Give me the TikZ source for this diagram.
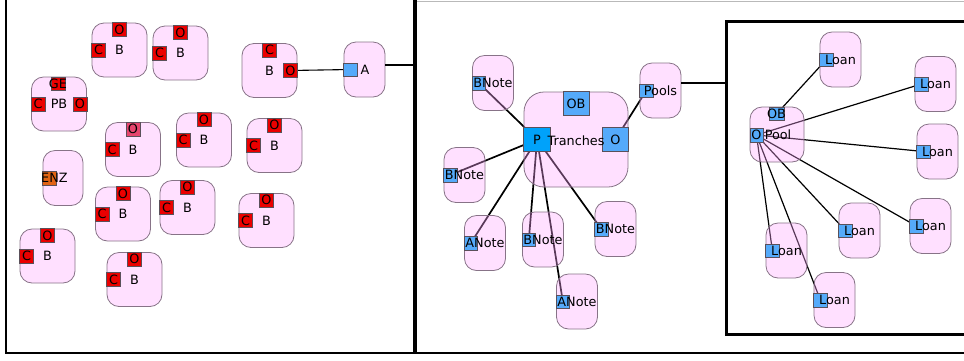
\documentclass[tikz,border=0pt]{standalone}
\usepackage{fontspec}
\setmainfont{DejaVu Sans}
\definecolor{boxbase}{RGB}{255,166,255}
\definecolor{boxline}{RGB}{135,115,135}
\definecolor{portred}{RGB}{235,0,0}
\definecolor{portpink}{RGB}{230,70,110}
\definecolor{portblue}{RGB}{85,170,250}
\definecolor{portcyan}{RGB}{0,162,250}
\definecolor{portorange}{RGB}{225,100,20}
\definecolor{portline}{RGB}{90,80,90}
\pgfdeclarelayer{bg}
\pgfsetlayers{bg,main}
\tikzset{
  cbox/.style={draw=boxline, line width=0.8pt, fill=boxbase, fill opacity=0.35, text opacity=1, rounded corners=12pt, inner sep=0pt},
  sqb/.style={minimum width=55pt, minimum height=54pt},
  tallb/.style={minimum width=41pt, minimum height=55pt},
  port/.style={draw=portline, line width=0.5pt, inner sep=0pt, minimum width=14pt, minimum height=14pt},
  bp/.style={port, fill=portblue, minimum width=13.5pt, minimum height=13.5pt},
  lbl/.style={inner sep=0pt},
  conn/.style={line width=1.2pt},
  frame/.style={line width=2.5pt}
}
\newcommand\mkB[4]{%
  \node[cbox,sqb] (#1) at (#2,#3) {B};
  \node[port,fill=#4] (#1o) at ([yshift=-7pt]#1.north) {O};
  \node[port,fill=portred] (#1c) at ([xshift=7pt]#1.west) {C};
}
\newcommand\mkN[4]{%
  \node[cbox,tallb] (#1) at (#2,#3) {};
  \node[bp] (#1p) at ([xshift=6.75pt]#1.west) {};
  \node[lbl] (#1l) at (#1.center) {#4};
}
\begin{document}
\begin{tikzpicture}[x=1pt,y=-1pt,font=\fontsize{12.8pt}{15pt}\selectfont]
\useasboundingbox (0,0) rectangle (964,360);
\clip (0,0) rectangle (964,360);
% frames
\draw[frame] (6,-3) -- (6,353) -- (968,353);
\draw[line width=3.5pt] (415,-3) -- (415,353);
\draw[gray!55, line width=1pt] (417,1) -- (968,1);
\draw[line width=3pt] (968,21) -- (726,21) -- (726,334) -- (968,334);

% ---------- left panel ----------
\mkB{b1}{119.5}{50}{portred}
\mkB{b2}{180.5}{53}{portred}
\mkB{b6}{133}{149.5}{portpink}
\mkB{b7}{204}{140}{portred}
\mkB{b8}{274.5}{145.5}{portred}
\mkB{b10}{123}{214}{portred}
\mkB{b11}{187.5}{207.5}{portred}
\mkB{b12}{266.5}{220.5}{portred}
\mkB{b13}{47.5}{256}{portred}
\mkB{b14}{134.5}{279.5}{portred}

\node[cbox,sqb] (b3) at (269.5,70.5) {B};
\node[port,fill=portred] (b3c) at ([yshift=-7pt]b3.north) {C};
\node[port,fill=portred] (b3o) at ([xshift=-7pt]b3.east) {O};

\node[cbox,tallb] (a) at (364.5,69.5) {};
\node[bp] (ap) at ([xshift=6.75pt]a.west) {};
\node[lbl] (al) at (365,69.5) {A};

\node[cbox,sqb] (pb) at (59,104) {PB};
\node[port,fill=portred,minimum height=12.5pt] (pbge) at (58,83.5) {};
\node[lbl] (pbgel) at (58,83.5) {GE};
\node[port,fill=portred] (pbc) at ([xshift=7pt]pb.west) {C};
\node[port,fill=portred] (pbo) at ([xshift=-7pt]pb.east) {O};

\node[cbox,tallb,minimum width=40pt] (enz) at (63,178) {};
\node[port,fill=portorange] (en) at (49,178) {};
\node[lbl,anchor=west] (enzl) at (41,178) {ENZ};

% ---------- middle panel ----------
\node[cbox,minimum width=104pt,minimum height=95pt,rounded corners=20pt] (tr) at (576,139.5) {};
\node[port,fill=portblue,minimum width=26pt,minimum height=24pt] (trob) at ([yshift=-12pt]tr.north) {OB};
\node[port,fill=portcyan,minimum width=27pt,minimum height=24pt] (trp) at ([xshift=13.5pt]tr.west) {P};
\node[port,fill=portblue,minimum width=26pt,minimum height=24pt] (tro) at ([xshift=-13pt]tr.east) {O};
\node[lbl] (trl) at (576,140.5) {Tranches};

\mkN{bn1}{493}{83}{BNote}
\mkN{bn2}{464.5}{175}{BNote}
\mkN{an1}{485}{243}{ANote}
\mkN{bn3}{543}{239.5}{BNote}
\mkN{bn4}{615.5}{229}{BNote}
\mkN{an2}{577}{301.5}{ANote}
\mkN{pools}{660.5}{90.5}{Pools}

% ---------- right panel ----------
\node[cbox,minimum width=54pt,minimum height=55pt] (pool) at (777,134.5) {};
\node[port,fill=portblue,minimum width=15pt,minimum height=13pt] (poolob) at (776.5,114) {};
\node[lbl] (poolobl) at (776.5,114) {OB};
\node[port,fill=portblue,minimum width=13.5pt,minimum height=13.5pt] (poolo) at (756.5,135) {O};
\node[lbl] (pooll) at (778,135) {Pool};

\mkN{l1}{840.5}{59.5}{Loan}
\mkN{l2}{935.5}{84}{Loan}
\mkN{l3}{937.5}{151.5}{Loan}
\mkN{l4}{859.5}{230.5}{Loan}
\mkN{l5}{930.5}{226}{Loan}
\mkN{l6}{786.5}{250.5}{Loan}
\mkN{l7}{834.5}{300}{Loan}

% frame connectors
\coordinate (f1) at (415,65);
\coordinate (f2) at (726,83);
\draw[frame] (a.east |- f1) -- (f1);
\draw[frame] (pools.east |- f2) -- (f2);

% connectors under the boxes
\begin{pgfonlayer}{bg}
\draw[line width=1.1pt] (b3o.center) -- (ap.center);
\foreach \t in {bn1p,bn2p,an1p,bn3p,an2p,bn4p}{
  \draw[line width=1.7pt] (trp.center) -- (\t.center);
}
\draw[line width=1.7pt] (tro.center) -- (poolsp.center);
\draw[conn] (poolob.center) -- (l1p.center);
\foreach \t in {l2p,l3p,l4p,l5p,l6p,l7p}{
  \draw[conn] (poolo.center) -- (\t.center);
}
\end{pgfonlayer}
\end{tikzpicture}
\end{document}
